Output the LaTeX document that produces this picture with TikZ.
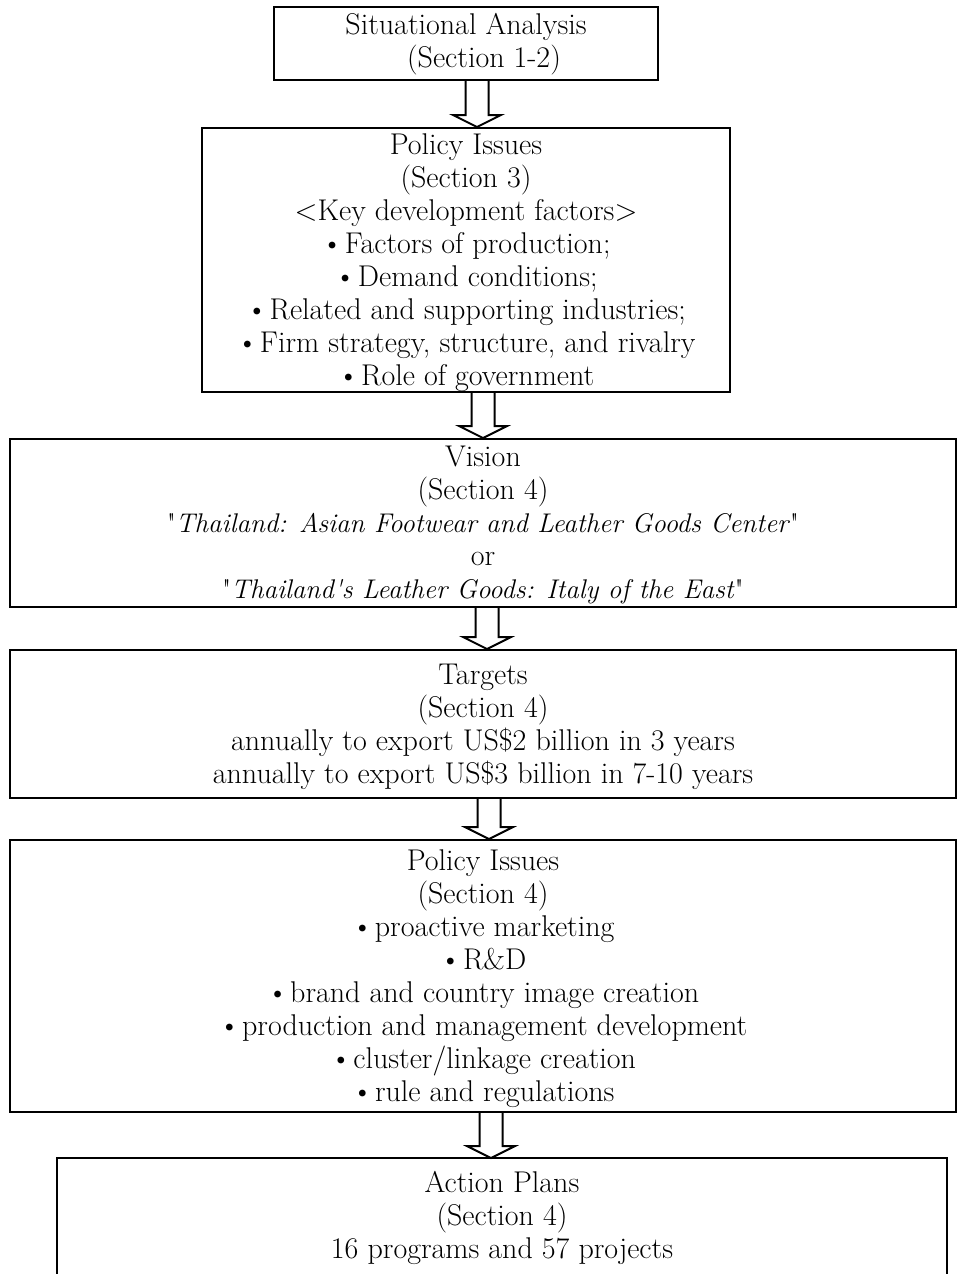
\documentclass[tikz,border=0pt]{standalone}
\usepackage{fontspec}
\usetikzlibrary{calc}
\newcommand\bul{\textbullet\hspace{0.06em}}
\newcommand\itq[1]{{\fontsize{27}{33}\selectfont\textquotedbl\textit{#1}\textquotedbl}}
\newcommand\bx[2][-3pt]{\raisebox{#1}[\height][\depth]{\begin{tabular}{@{}c@{}}#2\end{tabular}}}
\newcommand\blockarrow[3]{%
  \draw[arrowline] ($(#1 |- #2.south)+(-11.5,0)$) -- ($(#1 |- #3.north)+(-11.5,-12)$)
    -- ($(#1 |- #3.north)+(-24,-12)$) -- (#1 |- #3.north) -- ($(#1 |- #3.north)+(24,-12)$)
    -- ($(#1 |- #3.north)+(11.5,-12)$) -- ($(#1 |- #2.south)+(11.5,0)$);}
\begin{document}
\begin{tikzpicture}[x=1pt,y=-1pt,
  box/.style={draw, line width=2pt, inner sep=0pt, font=\fontsize{30}{33}\selectfont},
  arrowline/.style={line width=2pt, fill=white, line join=miter}]
\useasboundingbox (0,0) rectangle (957,1274);
\clip (0,0) rectangle (957,1274);
\node[box, minimum width=384, minimum height=73] (b1) at (466,43.5)
  {\bx[-1pt]{Situational Analysis\\ \hspace*{36pt}(Section 1-2)}};
\node[box, minimum width=528, minimum height=264] (b2) at (466,260)
  {\bx{Policy Issues\\(Section 3)\\<Key development factors>\\
   \bul Factors of production;\\ \bul Demand conditions;\\
   \bul Related and supporting industries;\\ \bul Firm strategy, structure, and rivalry\\
   \bul Role of government}};
\node[box, minimum width=946, minimum height=168] (b3) at (483,523)
  {\bx{Vision\\(Section 4)\\\itq{Thailand: Asian Footwear and Leather Goods Center}\\or\\
   \itq{Thailand\textquotesingle s Leather Goods: Italy of the East}}};
\node[box, minimum width=946, minimum height=148] (b4) at (483,724)
  {\bx{Targets\\(Section 4)\\annually to export US\$2 billion in 3 years\\
   annually to export US\$3 billion in 7-10 years}};
\node[box, minimum width=946, minimum height=272] (b5) at (483,976)
  {\bx{Policy Issues\\(Section 4)\\\bul proactive marketing\\\bul R\&D\\
   \bul brand and country image creation\\\bul production and management development\\
   \bul cluster/linkage creation\\\bul rule and regulations}};
\node[box, draw=none, minimum width=888, minimum height=114] (b6) at (502,1216)
  {\bx{Action Plans\\(Section 4)\\16 programs and 57 projects}};
\draw[line width=2pt] ($(b6.south west)+(0,30)$) -- (b6.north west) -- (b6.north east) -- ($(b6.south east)+(0,30)$);
\coordinate (a1) at (477,0);
\coordinate (a2) at (483,0);
\coordinate (a3) at (487,0);
\coordinate (a4) at (489,0);
\coordinate (a5) at (491,0);
\blockarrow{a1}{b1}{b2}
\blockarrow{a2}{b2}{b3}
\blockarrow{a3}{b3}{b4}
\blockarrow{a4}{b4}{b5}
\blockarrow{a5}{b5}{b6}
\end{tikzpicture}
\end{document}
